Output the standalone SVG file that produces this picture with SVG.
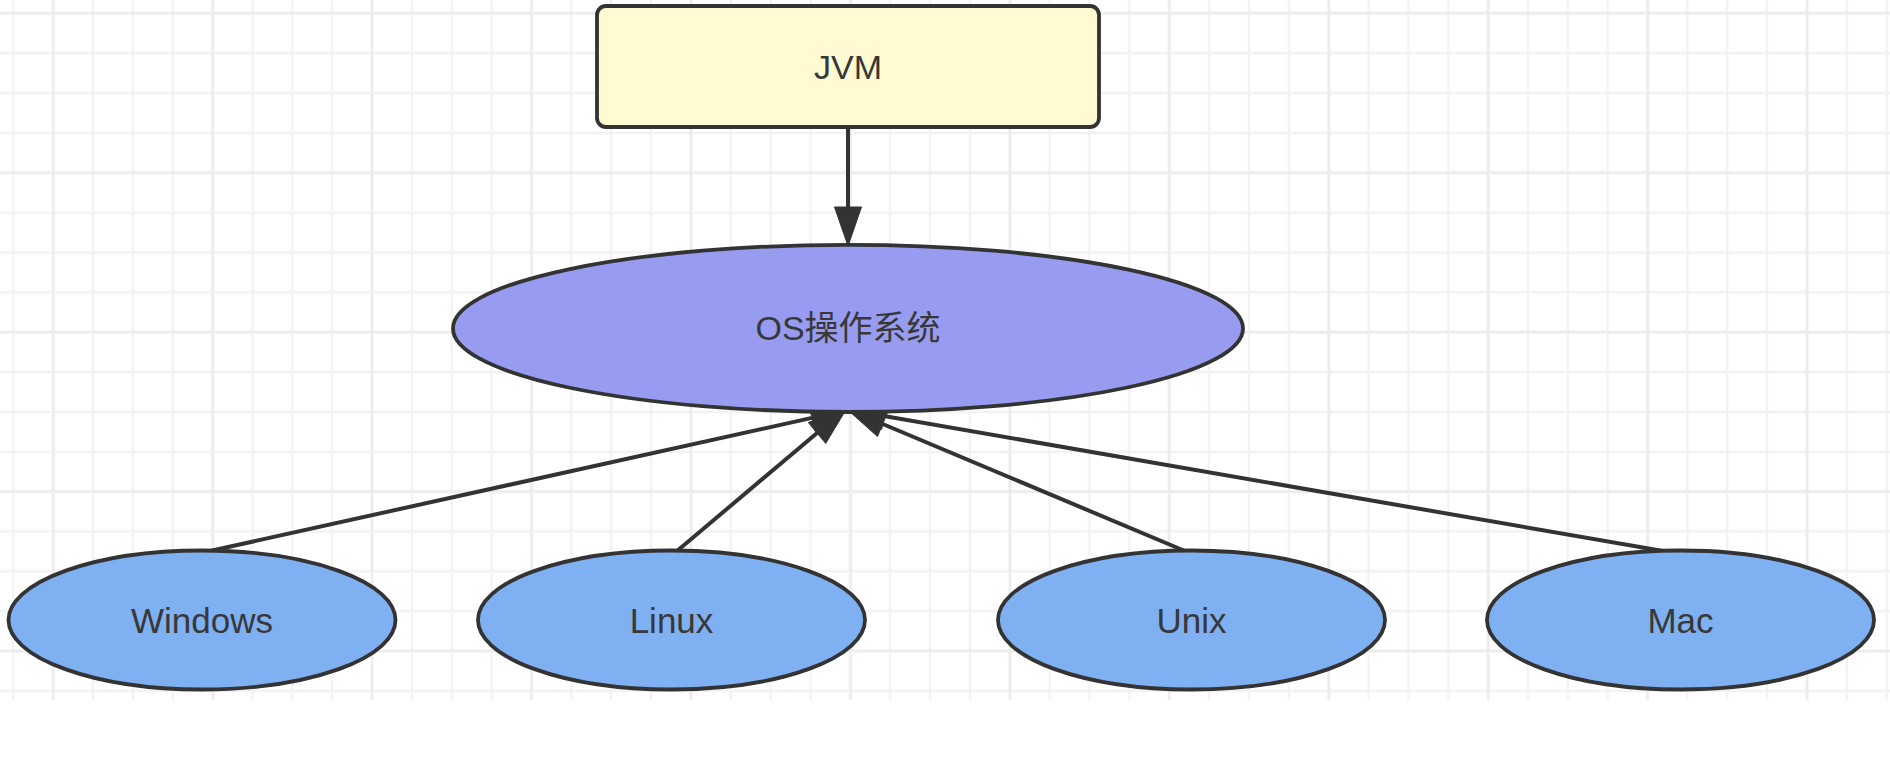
<svg xmlns="http://www.w3.org/2000/svg" width="1890" height="768" viewBox="0 0 1890 768">
  <style>
    .node { stroke: #333333; stroke-width: 3.8; }
    .rect { fill: #fffad2; }
    .os { fill: #979cf0; }
    .leaf { fill: #7fb0f2; }
    .label { font-family: "Liberation Sans", Arial, "Noto Sans CJK SC", sans-serif; fill: #383838; text-anchor: middle; }
    .edge { stroke: #333333; stroke-width: 4; fill: none; }
    .head { fill: #333333; stroke: #333333; stroke-width: 1; stroke-linejoin: miter; }
  </style>
  <defs>
    <pattern id="minor" patternUnits="userSpaceOnUse" x="-6.63" y="-6.63" width="39.86" height="39.86">
      <path d="M19.93 0 V39.86 M0 19.93 H39.86" stroke="#f2f2f2" stroke-width="2.4" fill="none"/>
    </pattern>
    <pattern id="major" patternUnits="userSpaceOnUse" x="-26.42" y="-66.42" width="159.44" height="159.44">
      <path d="M79.72 0 V159.44 M0 79.72 H159.44" stroke="#ececec" stroke-width="2.6" fill="none"/>
    </pattern>
  </defs>

  <rect x="0" y="0" width="1890" height="768" fill="#ffffff"/>
  <g id="grid">
    <rect x="0" y="0" width="1890" height="700" fill="url(#minor)"/>
    <rect x="0" y="0" width="1890" height="700" fill="url(#major)"/>
  </g>

  <g id="connectors">
    <!-- JVM -> OS -->
    <line class="edge" x1="848" y1="127" x2="848" y2="208"/>
    <polygon class="head" points="848,246 834.5,207 861.5,207"/>
    <!-- Windows -> OS -->
    <line class="edge" x1="210" y1="551" x2="811.9" y2="417.9"/>
    <polygon class="head" points="850,409.5 814.8,431.1 809.0,404.7"/>
    <!-- Linux -> OS -->
    <line class="edge" x1="677" y1="551" x2="817.1" y2="433.0"/>
    <polygon class="head" points="847,408 825.7,443.4 808.4,422.6"/>
    <!-- Unix -> OS -->
    <line class="edge" x1="1185" y1="551" x2="882.7" y2="424.0"/>
    <polygon class="head" points="846.7,409 887.9,411.5 877.5,436.5"/>
    <!-- Mac -> OS -->
    <line class="edge" x1="1663" y1="551" x2="884" y2="416"/>
    <polygon class="head" points="845.6,409.4 881.7,429.3 886.3,402.7"/>
  </g>

  <g id="node-jvm">
    <rect class="node rect" x="597" y="6" width="502" height="121" rx="9" ry="9"/>
    <text class="label" x="848" y="79" font-size="34">JVM</text>
  </g>

  <g id="node-os">
    <ellipse class="node os" cx="848" cy="328.4" rx="395" ry="83.6"/>
    <text class="label" x="848" y="340" font-size="34">OS操作系统</text>
  </g>

  <g id="node-windows">
    <ellipse class="node leaf" cx="202" cy="620" rx="193.5" ry="69.5"/>
    <text class="label" x="202" y="632.5" font-size="35">Windows</text>
  </g>

  <g id="node-linux">
    <ellipse class="node leaf" cx="671.5" cy="620" rx="193.5" ry="69.5"/>
    <text class="label" x="671.5" y="632.5" font-size="35">Linux</text>
  </g>

  <g id="node-unix">
    <ellipse class="node leaf" cx="1191.5" cy="620" rx="193.5" ry="69.5"/>
    <text class="label" x="1191.5" y="632.5" font-size="35">Unix</text>
  </g>

  <g id="node-mac">
    <ellipse class="node leaf" cx="1680.5" cy="620" rx="193.5" ry="69.5"/>
    <text class="label" x="1680.5" y="632.5" font-size="35">Mac</text>
  </g>
</svg>
